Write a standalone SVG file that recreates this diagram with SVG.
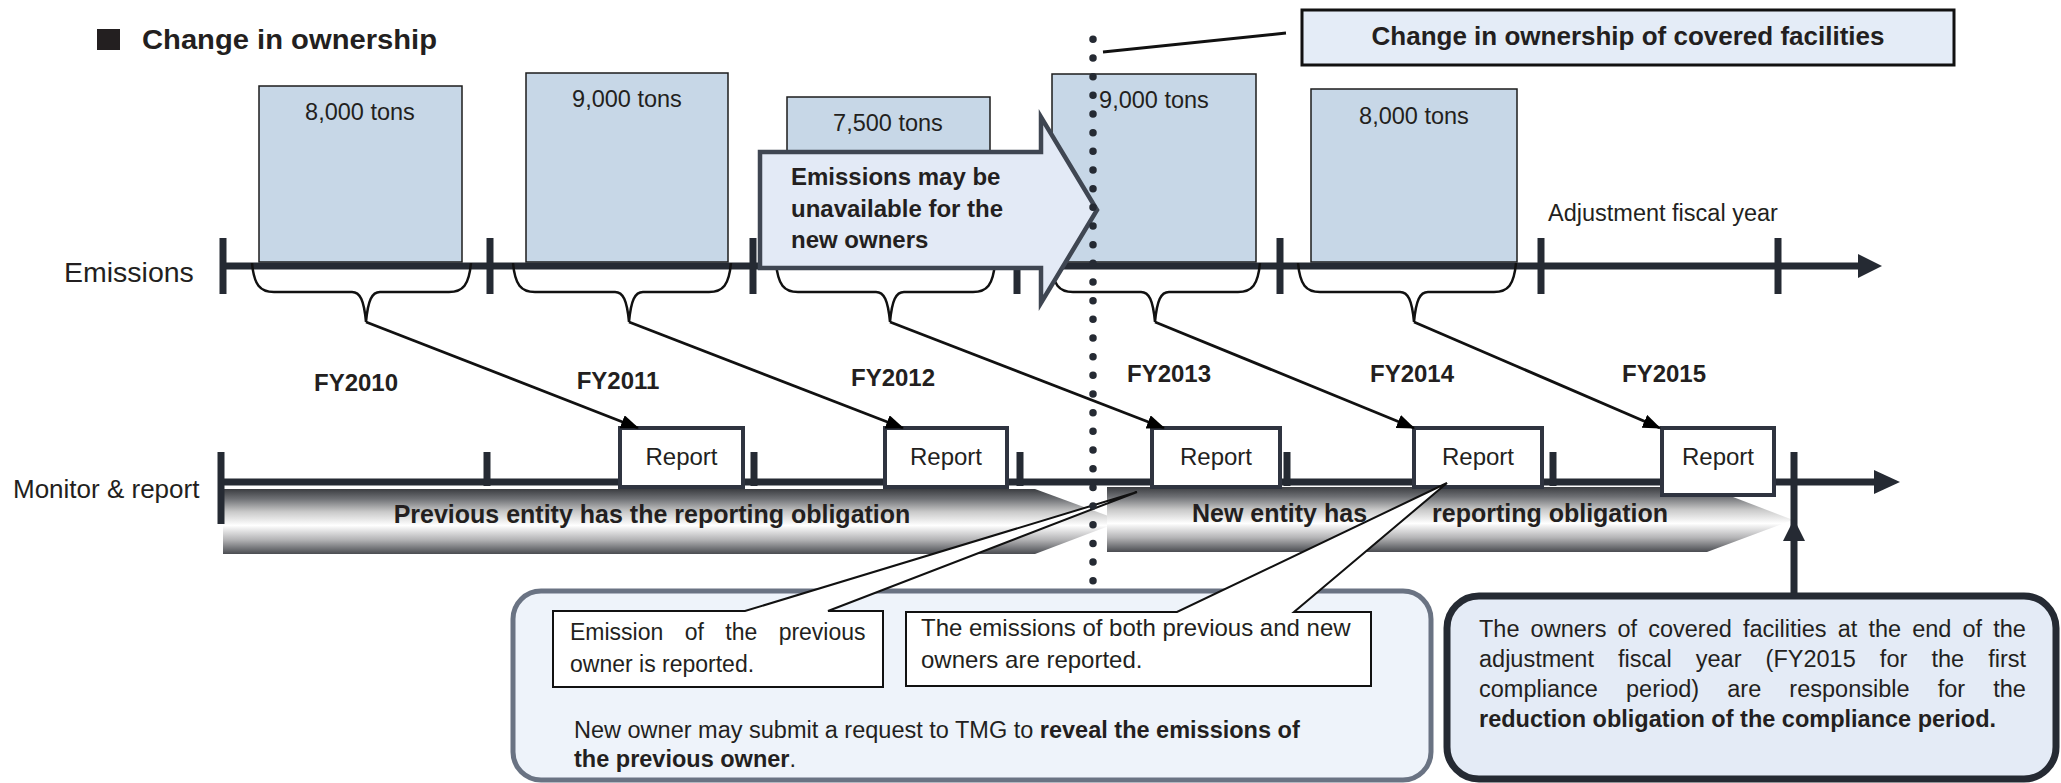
<svg xmlns="http://www.w3.org/2000/svg" width="2061" height="783" viewBox="0 0 2061 783">
  <defs>
    <style>
      text { font-family: "Liberation Sans", Arial, sans-serif; fill: #231f20; }
      .b { font-weight: bold; }
      .bar { fill: #c7d7e7; stroke: #1c1c1c; stroke-width: 1.5; }
      .bar-t { font-size: 23.5px; text-anchor: middle; }
      .axis { stroke: #252a33; stroke-width: 7; fill: none; }
      .tick { stroke: #252a33; stroke-width: 7; }
      .brace { fill: none; stroke: #111; stroke-width: 2.5; }
      .feed { stroke: #111; stroke-width: 2.8; marker-end: url(#head); }
      .report { fill: #fff; stroke: #2f3440; stroke-width: 4; }
      .report-t { font-size: 24px; text-anchor: middle; }
      .fy { font-size: 24px; font-weight: bold; text-anchor: middle; }
      .band { fill: url(#bandGrad); }
      .band-t { font-size: 25px; font-weight: bold; }
      .callout { fill: #fff; stroke: #111; stroke-width: 2; stroke-linejoin: miter; }
    </style>
    <linearGradient id="bandGrad" x1="0" y1="0" x2="0" y2="1">
      <stop offset="0" stop-color="#3b3d41"/>
      <stop offset="0.15" stop-color="#6e7074"/>
      <stop offset="0.35" stop-color="#c9c9c9"/>
      <stop offset="0.56" stop-color="#ffffff"/>
      <stop offset="0.78" stop-color="#b4b4b6"/>
      <stop offset="1" stop-color="#4a4c51"/>
    </linearGradient>
    <marker id="head" markerUnits="userSpaceOnUse" markerWidth="18" markerHeight="14" viewBox="0 0 18 14" refX="17" refY="7" orient="auto">
      <path d="M0,0 L18,7 L0,14 Z" fill="#000"/>
    </marker>
  </defs>

  <rect width="2061" height="783" fill="#fff"/>

  <!-- heading -->
  <g id="heading">
    <rect x="97" y="29" width="23" height="21" fill="#231f20"/>
    <text x="142" y="49" class="b" font-size="28.5" textLength="295" lengthAdjust="spacingAndGlyphs">Change in ownership</text>
  </g>

  <!-- yearly emission bars -->
  <g id="bar-fy2010"><rect class="bar" x="259" y="86" width="203" height="176"/><text class="bar-t" x="360" y="120">8,000 tons</text></g>
  <g id="bar-fy2011"><rect class="bar" x="526" y="73" width="202" height="189"/><text class="bar-t" x="627" y="107">9,000 tons</text></g>
  <g id="bar-fy2012"><rect class="bar" x="787" y="97" width="203" height="165"/><text class="bar-t" x="888" y="131">7,500 tons</text></g>
  <g id="bar-fy2013"><rect class="bar" x="1052" y="74" width="204" height="188"/><text class="bar-t" x="1154" y="108">9,000 tons</text></g>
  <g id="bar-fy2014"><rect class="bar" x="1311" y="89" width="206" height="173"/><text class="bar-t" x="1414" y="124">8,000 tons</text></g>

  <!-- emissions timeline -->
  <g id="emissions-axis">
    <text x="64" y="282" font-size="28.5">Emissions</text>
    <line class="axis" x1="223" y1="266" x2="1862" y2="266"/>
    <polygon points="1858,254 1882,266 1858,278" fill="#252a33"/>
    <line class="tick" x1="223" y1="238" x2="223" y2="294"/>
    <line class="tick" x1="490" y1="238" x2="490" y2="294"/>
    <line class="tick" x1="753" y1="238" x2="753" y2="294"/>
    <line class="tick" x1="1017" y1="238" x2="1017" y2="294"/>
    <line class="tick" x1="1280" y1="238" x2="1280" y2="294"/>
    <line class="tick" x1="1541" y1="238" x2="1541" y2="294"/>
    <line class="tick" x1="1778" y1="238" x2="1778" y2="294"/>
    <text x="1548" y="221" font-size="23.5">Adjustment fiscal year</text>
  </g>

  <!-- braces under each fiscal year -->
  <g id="braces">
    <path class="brace" d="M252,263 C254,285 260,292 274,292 L352,292 C360,292 364,300 366,322 C368,300 372,292 380,292 L449,292 C463,292 469,285 471,263"/>
    <path class="brace" d="M513,263 C515,285 521,292 535,292 L615,292 C623,292 627,300 629,322 C631,300 635,292 643,292 L709,292 C723,292 729,285 731,263"/>
    <path class="brace" d="M776,263 C778,285 784,292 798,292 L876,292 C884,292 888,300 890,322 C892,300 896,292 904,292 L973,292 C987,292 993,285 995,263"/>
    <path class="brace" d="M1051,263 C1053,285 1059,292 1073,292 L1141,292 C1149,292 1153,300 1155,322 C1157,300 1161,292 1169,292 L1238,292 C1252,292 1258,285 1260,263"/>
    <path class="brace" d="M1298,263 C1300,285 1306,292 1320,292 L1400,292 C1408,292 1412,300 1414,322 C1416,300 1420,292 1428,292 L1494,292 C1508,292 1514,285 1516,263"/>
  </g>

  <!-- fiscal year labels -->
  <g id="year-labels">
    <text class="fy" x="356" y="391">FY2010</text>
    <text class="fy" x="618" y="389">FY2011</text>
    <text class="fy" x="893" y="386">FY2012</text>
    <text class="fy" x="1169" y="382">FY2013</text>
    <text class="fy" x="1412" y="382">FY2014</text>
    <text class="fy" x="1664" y="382">FY2015</text>
  </g>

  <!-- block arrow note -->
  <g id="unavailable-note">
    <path d="M760,152 L1041,152 L1041,117 L1097,210 L1041,303 L1041,268 L760,268 Z" fill="#e3eaf6" stroke="#3f4652" stroke-width="4.5" stroke-linejoin="miter"/>
    <text class="b" font-size="24"><tspan x="791" y="185">Emissions may be</tspan><tspan x="791" y="217">unavailable for the</tspan><tspan x="791" y="248">new owners</tspan></text>
  </g>

  <!-- reporting obligation bands -->
  <g id="band-previous">
    <path class="band" d="M223,489 L1035,489 L1122,521 L1035,554 L223,554 Z"/>
    <text class="band-t" x="652" y="523" text-anchor="middle">Previous entity has the reporting obligation</text>
  </g>
  <g id="band-new">
    <path class="band" d="M1107,487 L1707,487 L1793,520 L1707,552 L1107,552 Z"/>
    <text class="band-t" x="1192" y="522">New entity has</text>
    <text class="band-t" x="1432" y="522">reporting obligation</text>
  </g>

  <!-- monitor and report timeline -->
  <g id="monitor-axis">
    <text x="13" y="498" font-size="26">Monitor &amp; report</text>
    <line class="axis" x1="219" y1="482" x2="1878" y2="482"/>
    <polygon points="1874,470 1900,482 1874,494" fill="#252a33"/>
    <line class="tick" x1="221" y1="452" x2="221" y2="524"/>
    <line class="tick" x1="487" y1="452" x2="487" y2="486"/>
    <line class="tick" x1="754" y1="452" x2="754" y2="486"/>
    <line class="tick" x1="1020" y1="452" x2="1020" y2="486"/>
    <line class="tick" x1="1287" y1="452" x2="1287" y2="486"/>
    <line class="tick" x1="1553" y1="452" x2="1553" y2="486"/>
    <line class="tick" x1="1794" y1="452" x2="1794" y2="597"/>
    <polygon points="1783,541 1794,519 1805,541" fill="#252a33"/>
  </g>

  <!-- report boxes -->
  <g id="report-fy2010"><rect class="report" x="620" y="428" width="123" height="59"/><text class="report-t" x="681.5" y="465">Report</text></g>
  <g id="report-fy2011"><rect class="report" x="885" y="428" width="122" height="59"/><text class="report-t" x="946" y="465">Report</text></g>
  <g id="report-fy2012"><rect class="report" x="1152" y="428" width="128" height="59"/><text class="report-t" x="1216" y="465">Report</text></g>
  <g id="report-fy2013"><rect class="report" x="1414" y="428" width="128" height="59"/><text class="report-t" x="1478" y="465">Report</text></g>
  <g id="report-fy2014"><rect class="report" x="1662" y="428" width="112" height="67"/><text class="report-t" x="1718" y="465">Report</text></g>

  <!-- lower explanation panel -->
  <g id="reveal-panel">
    <rect x="513" y="591" width="918" height="189" rx="28" fill="#eef3fa" stroke="#6a7383" stroke-width="5"/>
    <text font-size="23.5"><tspan x="574" y="738">New owner may submit a request to TMG to <tspan class="b">reveal the emissions of</tspan></tspan><tspan x="574" y="767"><tspan class="b">the previous owner</tspan>.</tspan></text>
  </g>

  <!-- callouts -->
  <g id="callout-previous">
    <path class="callout" d="M553,611 L745,611 L1137,492 L828,611 L883,611 L883,687 L553,687 Z"/>
    <text font-size="23"><tspan x="570" y="640" word-spacing="15">Emission of the previous</tspan><tspan x="570" y="672">owner is reported.</tspan></text>
  </g>
  <g id="callout-both">
    <path class="callout" d="M906,612 L1177,612 L1447,483 L1294,612 L1371,612 L1371,686 L906,686 Z"/>
    <text font-size="24"><tspan x="921" y="636">The emissions of both previous and new</tspan><tspan x="921" y="668">owners are reported.</tspan></text>
  </g>

  <!-- responsibility panel -->
  <g id="responsibility-panel">
    <rect x="1447" y="596" width="609" height="183" rx="32" fill="#e4ebf6" stroke="#252a33" stroke-width="7"/>
    <text font-size="23.5">
      <tspan x="1479" y="637" word-spacing="4.6">The owners of covered facilities at the end of the</tspan>
      <tspan x="1479" y="667" word-spacing="17.6">adjustment fiscal year (FY2015 for the first</tspan>
      <tspan x="1479" y="697" word-spacing="21.6">compliance period) are responsible for the</tspan>
      <tspan x="1479" y="727" class="b">reduction obligation of the compliance period.</tspan>
    </text>
  </g>

  <!-- ownership change marker -->
  <g id="ownership-change">
    <line x1="1093" y1="39.3" x2="1093" y2="581" stroke="#252a33" stroke-width="7.5" stroke-linecap="round" stroke-dasharray="0 18.67"/>
    <line x1="1103" y1="52" x2="1286" y2="33" stroke="#111" stroke-width="3"/>
    <rect x="1302" y="10" width="652" height="55" fill="#e4ecf7" stroke="#111" stroke-width="3"/>
    <text x="1628" y="45" class="b" font-size="26" text-anchor="middle">Change in ownership of covered facilities</text>
  </g>

  <!-- connectors: yearly emissions feed the following report -->
  <g id="connectors">
    <line class="feed" x1="366" y1="322" x2="638" y2="428"/>
    <line class="feed" x1="629" y1="322" x2="903" y2="428"/>
    <line class="feed" x1="890" y1="322" x2="1164" y2="428"/>
    <line class="feed" x1="1155" y1="322" x2="1414" y2="428"/>
    <line class="feed" x1="1414" y1="322" x2="1660" y2="428"/>
  </g>
</svg>
